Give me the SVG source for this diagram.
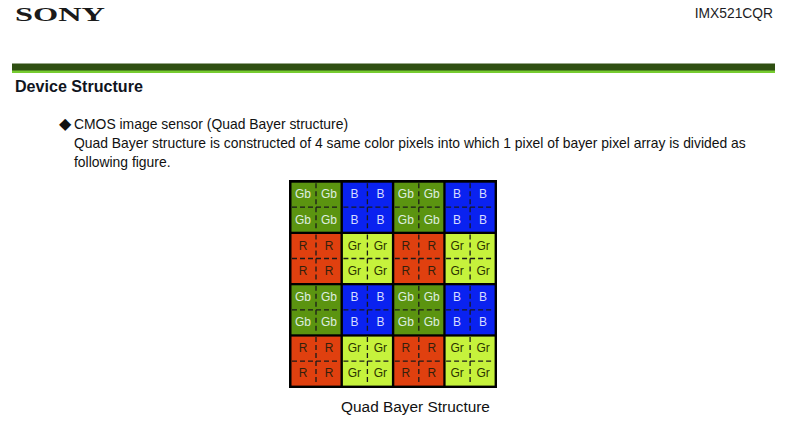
<svg xmlns="http://www.w3.org/2000/svg" width="800" height="421" viewBox="0 0 800 421">
<style>
text{font-family:"Liberation Sans",Arial,sans-serif}
.t{font-size:12px;text-anchor:middle}
.g{fill:#5b9410}.b{fill:#0a22f0}.r{fill:#e0400f}.y{fill:#c6f23c}
.lw{fill:#dfeee0}.lb{fill:#d6dcff}.ld{fill:#33200c}.ly{fill:#2b3300}
.d{stroke:#1a1a1a;stroke-width:1.3;stroke-dasharray:5 3;fill:none}
</style>
<rect width="800" height="421" fill="#fff"/>
<text x="15" y="20.500" font-size="19.500" font-weight="700" style="font-family:'Liberation Serif',serif" textLength="90" lengthAdjust="spacingAndGlyphs" fill="#1a1a1a">SONY</text>
<text x="773" y="17.500" font-size="13.800" text-anchor="end" fill="#1c1c24">IMX521CQR</text>
<rect x="12" y="63.500" width="763" height="8" fill="#2f4f12"/>
<rect x="12" y="70.500" width="763" height="2.500" fill="#76cc30"/>
<text x="15" y="92" font-size="16.100" font-weight="700" fill="#10141e">Device Structure</text>
<text x="58.500" y="129" font-size="16" fill="#111">◆</text>
<text x="74" y="128.500" font-size="13.900" fill="#111">CMOS image sensor (Quad Bayer structure)</text>
<text x="74" y="147.500" font-size="13.900" fill="#111">Quad Bayer structure is constructed of 4 same color pixels into which 1 pixel of bayer pixel array is divided as</text>
<text x="74" y="166.500" font-size="13.900" fill="#111">following figure.</text>
<rect x="289" y="180" width="208" height="208" fill="#000"/>
<defs>
<g id="gb"><rect x="-24.500" y="-24.500" width="49" height="49" class="g"/><path class="d" d="M-24 0H24M0-24V24"/><g class="t lw"><text x="-13" y="-9">Gb</text><text x="13" y="-9">Gb</text><text x="-13" y="16.400">Gb</text><text x="13" y="16.400">Gb</text></g></g>
<g id="bl"><rect x="-24.500" y="-24.500" width="49" height="49" class="b"/><path class="d" d="M-24 0H24M0-24V24"/><g class="t lb"><text x="-13" y="-9">B</text><text x="13" y="-9">B</text><text x="-13" y="16.400">B</text><text x="13" y="16.400">B</text></g></g>
<g id="rd"><rect x="-24.500" y="-24.500" width="49" height="49" class="r"/><path class="d" d="M-24 0H24M0-24V24"/><g class="t ld"><text x="-13" y="-9">R</text><text x="13" y="-9">R</text><text x="-13" y="16.400">R</text><text x="13" y="16.400">R</text></g></g>
<g id="gr"><rect x="-24.500" y="-24.500" width="49" height="49" class="y"/><path class="d" d="M-24 0H24M0-24V24"/><g class="t ly"><text x="-13" y="-9">Gr</text><text x="13" y="-9">Gr</text><text x="-13" y="16.400">Gr</text><text x="13" y="16.400">Gr</text></g></g>
</defs>
<use href="#gb" x="316" y="207.200"/><use href="#bl" x="367.400" y="207.200"/><use href="#gb" x="418.800" y="207.200"/><use href="#bl" x="470.100" y="207.200"/>
<use href="#rd" x="316" y="258.500"/><use href="#gr" x="367.400" y="258.500"/><use href="#rd" x="418.800" y="258.500"/><use href="#gr" x="470.100" y="258.500"/>
<use href="#gb" x="316" y="309.800"/><use href="#bl" x="367.400" y="309.800"/><use href="#gb" x="418.800" y="309.800"/><use href="#bl" x="470.100" y="309.800"/>
<use href="#rd" x="316" y="361.100"/><use href="#gr" x="367.400" y="361.100"/><use href="#rd" x="418.800" y="361.100"/><use href="#gr" x="470.100" y="361.100"/>
<text x="415.500" y="412" font-size="15.400" text-anchor="middle" fill="#111">Quad Bayer Structure</text>
</svg>
